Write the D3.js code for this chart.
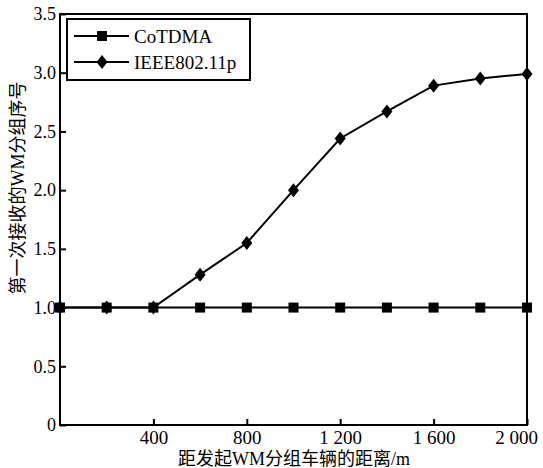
<!DOCTYPE html>
<html>
<head>
<meta charset="utf-8">
<script src="https://cdn.jsdelivr.net/npm/d3@7"></script>
<style>
  body { margin: 0; background: #fff; }
  text { font-family: "Liberation Serif", "Noto Sans CJK SC", serif; fill: #000; }
</style>
</head>
<body>
<div id="chart"></div>
<script>
var distances = [0, 200, 400, 600, 800, 1000, 1200, 1400, 1600, 1800, 2000];
var cotdma = [1, 1, 1, 1, 1, 1, 1, 1, 1, 1, 1];
var ieee = [1, 1, 1, 1.28, 1.55, 2.0, 2.44, 2.67, 2.89, 2.95, 2.99];
var seriesNames = ["CoTDMA", "IEEE802.11p"];
var xTicks = [400, 800, 1200, 1600, 2000];
var xTickLabels = ["400", "800", "1 200", "1 600", "2 000"];
var yTicks = [0, 0.5, 1.0, 1.5, 2.0, 2.5, 3.0, 3.5];
var yTickLabels = ["0", "0.5", "1.0", "1.5", "2.0", "2.5", "3.0", "3.5"];

var width = 543, height = 468,
    margin = {top: 14, right: 16, bottom: 43, left: 60};
var w = width - margin.left - margin.right,
    h = height - margin.top - margin.bottom;

var svg = d3.select("#chart").append("svg")
    .attr("width", width)
    .attr("height", height);

var g = svg.append("g").attr("transform", `translate(${margin.left},${margin.top})`);

var x = d3.scaleLinear().domain([0, 2000]).range([0, w]);
var y = d3.scaleLinear().domain([0, 3.5]).range([h, 0]);

// frame
g.append("rect")
    .attr("width", w).attr("height", h)
    .attr("fill", "none").attr("stroke", "#000").attr("stroke-width", 2);

// x axis (inward ticks)
var xAxis = d3.axisBottom(x).tickValues(xTicks).tickSize(-6).tickSizeOuter(0)
    .tickFormat((d, i) => xTickLabels[i]);
var gx = g.append("g").attr("transform", `translate(0,${h})`).call(xAxis);
gx.select(".domain").remove();
gx.selectAll("line").attr("stroke-width", 2);
gx.selectAll("text").attr("font-size", 19).attr("dy", "0.85em")
    .attr("dx", d => d === 2000 ? -11 : 0);

var yAxis = d3.axisLeft(y).tickValues(yTicks).tickSize(-6).tickSizeOuter(0)
    .tickFormat((d, i) => yTickLabels[i]);
var gy = g.append("g").call(yAxis);
gy.select(".domain").remove();
gy.selectAll("line").attr("stroke-width", 2);
gy.selectAll("text").attr("font-size", 18).attr("x", -4);

// lines
var line = d3.line().x((d, i) => x(distances[i])).y(d => y(d));

g.append("path").datum(ieee)
    .attr("d", line).attr("fill", "none").attr("stroke", "#000").attr("stroke-width", 2);
g.append("path").datum(cotdma)
    .attr("d", line).attr("fill", "none").attr("stroke", "#000").attr("stroke-width", 2);

var diamond = "M0,-7L5.5,0L0,7L-5.5,0Z";
g.selectAll(".dia").data(ieee).enter().append("path")
    .attr("class", "dia")
    .attr("d", diamond)
    .attr("transform", (d, i) => `translate(${x(distances[i])},${y(d)})`)
    .attr("fill", "#000");
g.selectAll(".sq").data(cotdma).enter().append("rect")
    .attr("class", "sq")
    .attr("x", (d, i) => x(distances[i]) - 5)
    .attr("y", d => y(d) - 5)
    .attr("width", 10).attr("height", 10)
    .attr("fill", "#000");

// legend
var lg = g.append("g").attr("transform", "translate(7,5)");
lg.append("rect").attr("width", 183).attr("height", 61)
    .attr("fill", "#fff").attr("stroke", "#000").attr("stroke-width", 2);
seriesNames.forEach(function(name, i) {
    var ly = 17 + i * 26;
    lg.append("line").attr("x1", 7).attr("x2", 62).attr("y1", ly).attr("y2", ly)
        .attr("stroke", "#000").attr("stroke-width", 2);
    if (i === 0) {
        lg.append("rect").attr("x", 30).attr("y", ly - 5).attr("width", 10).attr("height", 10).attr("fill", "#000");
    } else {
        lg.append("path").attr("d", diamond).attr("transform", `translate(35,${ly})`).attr("fill", "#000");
    }
    lg.append("text").attr("x", 67).attr("y", ly).attr("dy", "0.35em")
        .attr("font-size", 19).text(name);
});

// axis titles
svg.append("text")
    .attr("x", 294).attr("y", 465)
    .attr("text-anchor", "middle").attr("font-size", 18)
    .text("距发起WM分组车辆的距离/m");
svg.append("text")
    .attr("transform", `translate(18,188) rotate(-90)`)
    .attr("text-anchor", "middle").attr("dy", "0.35em").attr("font-size", 18)
    .text("第一次接收的WM分组序号");
</script>
</body>
</html>
